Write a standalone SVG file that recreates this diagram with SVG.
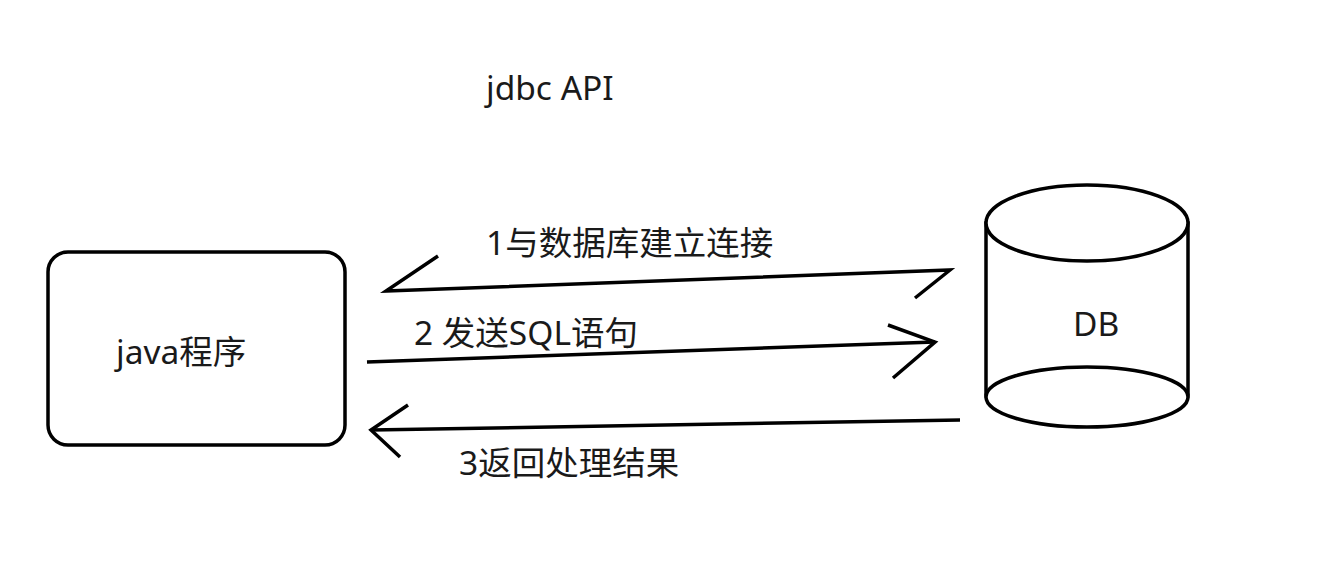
<svg xmlns="http://www.w3.org/2000/svg" width="1332" height="563" viewBox="0 0 1332 563">
<style>
.ln{fill:none;stroke:#000;stroke-width:3.5;stroke-linejoin:miter;stroke-linecap:butt}
.sh{fill:#fff;stroke:#000;stroke-width:3.5}
.t{font-family:"Noto Sans","Noto Sans CJK SC",sans-serif;font-size:33.5px;fill:#1a1a1a}
</style>
<rect width="1332" height="563" fill="#fff"/>
<text class="t" x="486" y="100">jdbc API</text>
<g id="java">
<rect class="sh" x="48" y="252" width="297" height="193" rx="20" ry="20"/>
<text class="t" x="116" y="364">java程序</text>
</g>
<g id="db">
<path class="sh" d="M986,223 L986,395 A101,30 0 0 0 1188,395 L1188,223 Z"/>
<ellipse class="sh" cx="1087" cy="223" rx="101" ry="38"/>
<ellipse class="sh" cx="1087" cy="397" rx="101" ry="30"/>
<text class="t" x="1073" y="336">DB</text>
</g>
<g id="connectors">
<polyline class="ln" points="438,256 386,291 950,270 915,298"/>
<polyline class="ln" points="367,362 935,342"/>
<polyline class="ln" points="888,325 935,342 893,378"/>
<polyline class="ln" points="960,420 371,430"/>
<polyline class="ln" points="408,405 371,430 400,457"/>
</g>
<g id="labels">
<text class="t" x="486" y="255">1与数据库建立连接</text>
<text class="t" x="414" y="345">2 发送SQL语句</text>
<text class="t" x="459" y="475">3返回处理结果</text>
</g>
</svg>
